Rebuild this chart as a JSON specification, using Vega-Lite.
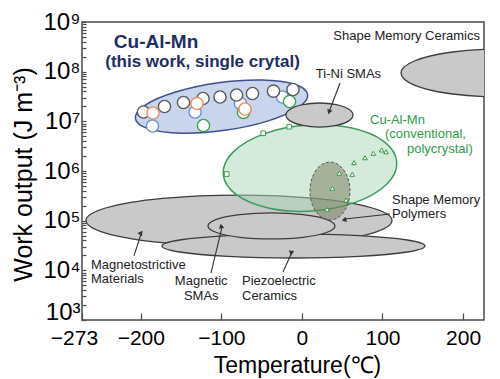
{
  "$schema": "https://vega.github.io/schema/vega-lite/v6.json",
  "width": 402,
  "height": 298,
  "autosize": {"type": "none"},
  "padding": {"left": 82, "top": 22, "right": 16, "bottom": 59},
  "background": "white",
  "config": {
    "font": "Liberation Sans",
    "view": {"stroke": "#4a4a4a", "strokeWidth": 1.5},
    "axis": {"domain": false, "grid": false, "tickColor": "#4a4a4a", "tickWidth": 1.2, "labelColor": "#000", "titleColor": "#000", "titleFontWeight": "normal", "labelFont": "Liberation Sans", "titleFont": "Liberation Sans", "labelOverlap": false, "labelFlush": false}
  },
  "datasets": {
    "grayLow": [
      {"name": "Magnetostrictive materials", "i": 0, "T": 111.8, "W": 101000},
      {"name": "Magnetostrictive materials", "i": 1, "T": 86.4, "W": 182000},
      {"name": "Magnetostrictive materials", "i": 2, "T": 16.9, "W": 281000},
      {"name": "Magnetostrictive materials", "i": 3, "T": -78.1, "W": 328000},
      {"name": "Magnetostrictive materials", "i": 4, "T": -173.1, "W": 281000},
      {"name": "Magnetostrictive materials", "i": 5, "T": -242.6, "W": 182000},
      {"name": "Magnetostrictive materials", "i": 6, "T": -268.0, "W": 101000},
      {"name": "Magnetostrictive materials", "i": 7, "T": -242.6, "W": 55700},
      {"name": "Magnetostrictive materials", "i": 8, "T": -173.1, "W": 36100},
      {"name": "Magnetostrictive materials", "i": 9, "T": -78.1, "W": 30900},
      {"name": "Magnetostrictive materials", "i": 10, "T": 16.9, "W": 36100},
      {"name": "Magnetostrictive materials", "i": 11, "T": 86.4, "W": 55700},
      {"name": "Piezoelectric ceramics", "i": 0, "T": 152.7, "W": 30900},
      {"name": "Piezoelectric ceramics", "i": 1, "T": 130.8, "W": 40800},
      {"name": "Piezoelectric ceramics", "i": 2, "T": 71.1, "W": 50000},
      {"name": "Piezoelectric ceramics", "i": 3, "T": -10.5, "W": 54000},
      {"name": "Piezoelectric ceramics", "i": 4, "T": -92.1, "W": 50000},
      {"name": "Piezoelectric ceramics", "i": 5, "T": -151.8, "W": 40800},
      {"name": "Piezoelectric ceramics", "i": 6, "T": -173.7, "W": 30900},
      {"name": "Piezoelectric ceramics", "i": 7, "T": -151.8, "W": 23400},
      {"name": "Piezoelectric ceramics", "i": 8, "T": -92.1, "W": 19100},
      {"name": "Piezoelectric ceramics", "i": 9, "T": -10.5, "W": 17700},
      {"name": "Piezoelectric ceramics", "i": 10, "T": 71.1, "W": 19100},
      {"name": "Piezoelectric ceramics", "i": 11, "T": 130.8, "W": 23400},
      {"name": "Magnetic SMAs", "i": 0, "T": 41.0, "W": 78200},
      {"name": "Magnetic SMAs", "i": 1, "T": 30.4, "W": 106000},
      {"name": "Magnetic SMAs", "i": 2, "T": 1.6, "W": 132000},
      {"name": "Magnetic SMAs", "i": 3, "T": -37.8, "W": 143000},
      {"name": "Magnetic SMAs", "i": 4, "T": -77.2, "W": 132000},
      {"name": "Magnetic SMAs", "i": 5, "T": -106.0, "W": 106000},
      {"name": "Magnetic SMAs", "i": 6, "T": -116.6, "W": 78200},
      {"name": "Magnetic SMAs", "i": 7, "T": -106.0, "W": 57800},
      {"name": "Magnetic SMAs", "i": 8, "T": -77.2, "W": 46300},
      {"name": "Magnetic SMAs", "i": 9, "T": -37.8, "W": 42800},
      {"name": "Magnetic SMAs", "i": 10, "T": 1.6, "W": 46300},
      {"name": "Magnetic SMAs", "i": 11, "T": 30.4, "W": 57800}
    ],
    "grayHigh": [
      {"name": "Ti-Ni SMAs", "i": 0, "T": 63.4, "W": 13400000},
      {"name": "Ti-Ni SMAs", "i": 1, "T": 57.8, "W": 17700000},
      {"name": "Ti-Ni SMAs", "i": 2, "T": 42.6, "W": 21700000},
      {"name": "Ti-Ni SMAs", "i": 3, "T": 21.8, "W": 23400000},
      {"name": "Ti-Ni SMAs", "i": 4, "T": 1.0, "W": 21700000},
      {"name": "Ti-Ni SMAs", "i": 5, "T": -14.2, "W": 17700000},
      {"name": "Ti-Ni SMAs", "i": 6, "T": -19.8, "W": 13400000},
      {"name": "Ti-Ni SMAs", "i": 7, "T": -14.2, "W": 10100000},
      {"name": "Ti-Ni SMAs", "i": 8, "T": 1.0, "W": 8280000},
      {"name": "Ti-Ni SMAs", "i": 9, "T": 21.8, "W": 7670000},
      {"name": "Ti-Ni SMAs", "i": 10, "T": 42.6, "W": 8280000},
      {"name": "Ti-Ni SMAs", "i": 11, "T": 57.8, "W": 10100000},
      {"name": "Shape memory ceramics", "i": 0, "T": 368.8, "W": 94000000},
      {"name": "Shape memory ceramics", "i": 1, "T": 352.3, "W": 164000000},
      {"name": "Shape memory ceramics", "i": 2, "T": 307.4, "W": 246000000},
      {"name": "Shape memory ceramics", "i": 3, "T": 245.9, "W": 286000000},
      {"name": "Shape memory ceramics", "i": 4, "T": 184.5, "W": 246000000},
      {"name": "Shape memory ceramics", "i": 5, "T": 139.5, "W": 164000000},
      {"name": "Shape memory ceramics", "i": 6, "T": 123.0, "W": 94000000},
      {"name": "Shape memory ceramics", "i": 7, "T": 139.5, "W": 53800000},
      {"name": "Shape memory ceramics", "i": 8, "T": 184.5, "W": 35900000},
      {"name": "Shape memory ceramics", "i": 9, "T": 245.9, "W": 30900000},
      {"name": "Shape memory ceramics", "i": 10, "T": 307.4, "W": 35900000},
      {"name": "Shape memory ceramics", "i": 11, "T": 352.3, "W": 53800000}
    ],
    "smp": [
      {"name": "Shape memory polymers", "i": 0, "T": 59.6, "W": 395000},
      {"name": "Shape memory polymers", "i": 1, "T": 56.3, "W": 774000},
      {"name": "Shape memory polymers", "i": 2, "T": 47.2, "W": 1270000},
      {"name": "Shape memory polymers", "i": 3, "T": 34.8, "W": 1520000},
      {"name": "Shape memory polymers", "i": 4, "T": 22.4, "W": 1270000},
      {"name": "Shape memory polymers", "i": 5, "T": 13.3, "W": 774000},
      {"name": "Shape memory polymers", "i": 6, "T": 10.0, "W": 395000},
      {"name": "Shape memory polymers", "i": 7, "T": 13.3, "W": 202000},
      {"name": "Shape memory polymers", "i": 8, "T": 22.4, "W": 123000},
      {"name": "Shape memory polymers", "i": 9, "T": 34.8, "W": 103000},
      {"name": "Shape memory polymers", "i": 10, "T": 47.2, "W": 123000},
      {"name": "Shape memory polymers", "i": 11, "T": 56.3, "W": 202000}
    ],
    "green": [
      {"name": "Cu-Al-Mn polycrystal", "i": 0, "T": 117.7, "W": 1520000},
      {"name": "Cu-Al-Mn polycrystal", "i": 1, "T": 101.4, "W": 3960000},
      {"name": "Cu-Al-Mn polycrystal", "i": 2, "T": 60.6, "W": 7400000},
      {"name": "Cu-Al-Mn polycrystal", "i": 3, "T": 6.3, "W": 8390000},
      {"name": "Cu-Al-Mn polycrystal", "i": 4, "T": -47.1, "W": 5580000},
      {"name": "Cu-Al-Mn polycrystal", "i": 5, "T": -85.2, "W": 2430000},
      {"name": "Cu-Al-Mn polycrystal", "i": 6, "T": -97.7, "W": 867000},
      {"name": "Cu-Al-Mn polycrystal", "i": 7, "T": -81.4, "W": 333000},
      {"name": "Cu-Al-Mn polycrystal", "i": 8, "T": -40.6, "W": 178000},
      {"name": "Cu-Al-Mn polycrystal", "i": 9, "T": 13.7, "W": 157000},
      {"name": "Cu-Al-Mn polycrystal", "i": 10, "T": 67.1, "W": 236000},
      {"name": "Cu-Al-Mn polycrystal", "i": 11, "T": 105.2, "W": 542000}
    ],
    "blue": [
      {"name": "Cu-Al-Mn single crystal", "i": 0, "T": 7.1, "W": 34800000},
      {"name": "Cu-Al-Mn single crystal", "i": 1, "T": -9.3, "W": 56000000},
      {"name": "Cu-Al-Mn single crystal", "i": 2, "T": -49.9, "W": 68200000},
      {"name": "Cu-Al-Mn single crystal", "i": 3, "T": -103.9, "W": 59800000},
      {"name": "Cu-Al-Mn single crystal", "i": 4, "T": -156.9, "W": 38900000},
      {"name": "Cu-Al-Mn single crystal", "i": 5, "T": -194.5, "W": 21200000},
      {"name": "Cu-Al-Mn single crystal", "i": 6, "T": -206.7, "W": 11300000},
      {"name": "Cu-Al-Mn single crystal", "i": 7, "T": -190.3, "W": 7050000},
      {"name": "Cu-Al-Mn single crystal", "i": 8, "T": -149.7, "W": 5780000},
      {"name": "Cu-Al-Mn single crystal", "i": 9, "T": -95.7, "W": 6590000},
      {"name": "Cu-Al-Mn single crystal", "i": 10, "T": -42.7, "W": 10100000},
      {"name": "Cu-Al-Mn single crystal", "i": 11, "T": -5.1, "W": 18600000}
    ],
    "crystal": [
      {"series": "s3", "T": -185.5, "W": 8050000},
      {"series": "s3", "T": -132.7, "W": 15400000},
      {"series": "s3", "T": -76.3, "W": 22900000},
      {"series": "s3", "T": -24.1, "W": 30900000},
      {"series": "s4", "T": -122.2, "W": 8240000},
      {"series": "s4", "T": -72.5, "W": 15100000},
      {"series": "s4", "T": -15.4, "W": 25100000},
      {"series": "s1", "T": -196.7, "W": 15400000},
      {"series": "s1", "T": -170.6, "W": 19900000},
      {"series": "s1", "T": -147.0, "W": 23900000},
      {"series": "s1", "T": -122.8, "W": 28800000},
      {"series": "s1", "T": -101.7, "W": 30900000},
      {"series": "s1", "T": -81.2, "W": 33900000},
      {"series": "s1", "T": -61.4, "W": 36300000},
      {"series": "s1", "T": -35.3, "W": 40700000},
      {"series": "s1", "T": -11.1, "W": 43800000},
      {"series": "s2", "T": -184.9, "W": 14700000},
      {"series": "s2", "T": -130.3, "W": 22900000},
      {"series": "s2", "T": -70.7, "W": 17700000}
    ],
    "poly": [
      {"group": "A", "T": -93.4, "W": 869000},
      {"group": "A", "T": -48.0, "W": 5740000},
      {"group": "A", "T": -15.7, "W": 7800000},
      {"group": "B", "T": 64.6, "W": 1470000},
      {"group": "B", "T": 78.3, "W": 1850000},
      {"group": "B", "T": 88.6, "W": 2270000},
      {"group": "B", "T": 99.0, "W": 2650000},
      {"group": "B", "T": 104.4, "W": 2440000},
      {"group": "B", "T": 62.5, "W": 857000},
      {"group": "B", "T": 46.4, "W": 900000},
      {"group": "B", "T": 37.7, "W": 449000},
      {"group": "B", "T": 54.7, "W": 261000},
      {"group": "B", "T": 31.1, "W": 169000}
    ],
    "arrows": [
      {"name": "Ti-Ni", "T1": 47.3, "W1": 59200000, "T2": 33.6, "W2": 15400000},
      {"name": "Magnetostrictive", "T1": -208.5, "W1": 19500, "T2": -199.8, "W2": 53800},
      {"name": "Magnetic SMAs", "T1": -112.9, "W1": 8830, "T2": -99.2, "W2": 74500},
      {"name": "Piezoelectric", "T1": -23.5, "W1": 9250, "T2": -12.3, "W2": 23400},
      {"name": "SMP", "T1": 109.3, "W1": 136000, "T2": 53.5, "W2": 108000}
    ]
  },
  "layer": [
    {
      "data": {"name": "grayLow"},
      "mark": {"type": "line", "interpolate": "cardinal-closed", "fill": "#c9c9c9", "stroke": "#3c3c3c", "strokeWidth": 1.3, "clip": true},
      "encoding": {
        "x": {"field": "T", "type": "quantitative", "scale": {"domain": [-273, 226], "nice": false, "zero": false},
          "axis": {"values": [-273, -200, -100, 0, 100, 200], "format": "d", "labelFontSize": 21, "tickSize": -7, "labelPadding": 14,
            "labelOffset": {"condition": {"test": "datum.value == -273", "value": -8}, "value": 0},
            "title": "Temperature(℃)", "titleFontSize": 23, "titleX": 215, "titleY": 45, "titleBaseline": "middle"}},
        "y": {"field": "W", "type": "quantitative", "scale": {"type": "log", "domain": [1000, 1000000000], "nice": false},
          "axis": {"values": [1000, 2000, 3000, 4000, 5000, 6000, 7000, 8000, 9000, 10000, 20000, 30000, 40000, 50000, 60000, 70000, 80000, 90000, 100000, 200000, 300000, 400000, 500000, 600000, 700000, 800000, 900000, 1000000, 2000000, 3000000, 4000000, 5000000, 6000000, 7000000, 8000000, 9000000, 10000000, 20000000, 30000000, 40000000, 50000000, 60000000, 70000000, 80000000, 90000000, 100000000, 200000000, 300000000, 400000000, 500000000, 600000000, 700000000, 800000000, 900000000, 1000000000],
            "labelExpr": "abs(log(datum.value)/LN10 - round(log(datum.value)/LN10)) < 0.001 ? '10' + ['⁰','¹','²','³','⁴','⁵','⁶','⁷','⁸','⁹'][round(log(datum.value)/LN10)] : ''",
            "labelFontSize": 24, "labelPadding": 6, "tickSize": -4,
            "labelOffset": {"condition": {"test": "datum.value == 1000", "value": -8}, "value": 0},
            "title": "Work output (J m⁻³)", "titleFontSize": 25, "titleX": -59, "titleY": 152, "titleBaseline": "middle", "titleAngle": -90}},
        "detail": {"field": "name"},
        "order": {"field": "i", "type": "quantitative"}
      }
    },
    {
      "data": {"name": "green"},
      "mark": {"type": "line", "interpolate": "cardinal-closed", "fill": "#a9d5b7", "fillOpacity": 0.5, "stroke": "#3d9c5c", "strokeWidth": 1.5},
      "encoding": {
        "x": {"field": "T", "type": "quantitative"},
        "y": {"field": "W", "type": "quantitative"},
        "detail": {"field": "name"},
        "order": {"field": "i", "type": "quantitative"}
      }
    },
    {
      "data": {"name": "smp"},
      "mark": {"type": "line", "interpolate": "cardinal-closed", "fill": "#767a58", "fillOpacity": 0.5, "stroke": "#555555", "strokeWidth": 1, "strokeDash": [3, 2]},
      "encoding": {
        "x": {"field": "T", "type": "quantitative"},
        "y": {"field": "W", "type": "quantitative"},
        "detail": {"field": "name"},
        "order": {"field": "i", "type": "quantitative"}
      }
    },
    {
      "data": {"name": "blue"},
      "mark": {"type": "line", "interpolate": "cardinal-closed", "fill": "#c8d5ed", "stroke": "#3f4f8c", "strokeWidth": 1.5},
      "encoding": {
        "x": {"field": "T", "type": "quantitative"},
        "y": {"field": "W", "type": "quantitative"},
        "detail": {"field": "name"},
        "order": {"field": "i", "type": "quantitative"}
      }
    },
    {
      "data": {"name": "grayHigh"},
      "mark": {"type": "line", "interpolate": "cardinal-closed", "fill": "#c9c9c9", "stroke": "#3c3c3c", "strokeWidth": 1.3, "clip": true},
      "encoding": {
        "x": {"field": "T", "type": "quantitative"},
        "y": {"field": "W", "type": "quantitative"},
        "detail": {"field": "name"},
        "order": {"field": "i", "type": "quantitative"}
      }
    },
    {
      "data": {"name": "crystal"},
      "mark": {"type": "point", "shape": "circle", "filled": false, "fill": "white", "size": 150, "strokeWidth": 1.4, "opacity": 1},
      "encoding": {
        "x": {"field": "T", "type": "quantitative"},
        "y": {"field": "W", "type": "quantitative"},
        "color": {"field": "series", "type": "nominal", "scale": {"domain": ["s1", "s2", "s3", "s4"], "range": ["#5a5a5a", "#ee8a5c", "#6a8fd4", "#3aa14c"]}, "legend": null}
      }
    },
    {
      "data": {"name": "poly"},
      "mark": {"type": "point", "filled": false, "fill": "white", "size": 22, "strokeWidth": 1, "stroke": "#3a9a50", "opacity": 1},
      "encoding": {
        "x": {"field": "T", "type": "quantitative"},
        "y": {"field": "W", "type": "quantitative"},
        "shape": {"field": "group", "type": "nominal", "scale": {"domain": ["A", "B"], "range": ["square", "triangle-up"]}, "legend": null}
      }
    },
    {
      "data": {"name": "arrows"},
      "mark": {"type": "rule", "color": "#333333", "strokeWidth": 1.1},
      "encoding": {
        "x": {"field": "T1", "type": "quantitative"},
        "y": {"field": "W1", "type": "quantitative"},
        "x2": {"field": "T2"},
        "y2": {"field": "W2"}
      }
    },
    {
      "data": {"name": "arrows"},
      "mark": {"type": "point", "shape": "triangle-up", "filled": true, "color": "#333333", "size": 30, "opacity": 1},
      "encoding": {
        "x": {"field": "T2", "type": "quantitative"},
        "y": {"field": "W2", "type": "quantitative"},
        "angle": {"field": "name", "type": "nominal", "scale": {"domain": ["Ti-Ni", "Magnetostrictive", "Magnetic SMAs", "Piezoelectric", "SMP"], "range": [201, 18, 13, 24, 264]}, "legend": null}
      }
    },
    {
      "data": {"values": [{"label": "Cu-Al-Mn", "T": -181.1, "W": 395000000}]},
      "mark": {"type": "text", "fontWeight": "bold", "fontSize": 19, "color": "#1e2d66", "align": "center", "baseline": "middle"},
      "encoding": {
        "x": {"field": "T", "type": "quantitative"},
        "y": {"field": "W", "type": "quantitative"},
        "text": {"field": "label"}
      }
    },
    {
      "data": {"values": [{"label": "(this work, single crytal)", "T": -123.4, "W": 156000000}]},
      "mark": {"type": "text", "fontWeight": "bold", "fontSize": 17, "color": "#1e2d66", "align": "center", "baseline": "middle"},
      "encoding": {
        "x": {"field": "T", "type": "quantitative"},
        "y": {"field": "W", "type": "quantitative"},
        "text": {"field": "label"}
      }
    },
    {
      "data": {"values": [
        {"label": "Magnetostrictive", "T": -261.8, "W": 12800},
        {"label": "Materials", "T": -261.8, "W": 6680},
        {"label": "Piezoelectric", "T": -74.4, "W": 6100},
        {"label": "Ceramics", "T": -74.4, "W": 3040},
        {"label": "Shape Memory", "T": 111.8, "W": 261000},
        {"label": "Polymers", "T": 111.8, "W": 136000}
      ]},
      "mark": {"type": "text", "fontSize": 13, "color": "#222222", "align": "left", "baseline": "middle"},
      "encoding": {
        "x": {"field": "T", "type": "quantitative"},
        "y": {"field": "W", "type": "quantitative"},
        "text": {"field": "label"}
      }
    },
    {
      "data": {"values": [
        {"label": "Magnetic", "T": -125, "W": 6100},
        {"label": "SMAs", "T": -125, "W": 3040},
        {"label": "Ti-Ni SMAs", "T": 57.8, "W": 89800000}
      ]},
      "mark": {"type": "text", "fontSize": 13, "color": "#222222", "align": "center", "baseline": "middle"},
      "encoding": {
        "x": {"field": "T", "type": "quantitative"},
        "y": {"field": "W", "type": "quantitative"},
        "text": {"field": "label"}
      }
    },
    {
      "data": {"values": [{"label": "Shape Memory Ceramics", "T": 221, "W": 522000000}]},
      "mark": {"type": "text", "fontSize": 13, "color": "#222222", "align": "right", "baseline": "middle"},
      "encoding": {
        "x": {"field": "T", "type": "quantitative"},
        "y": {"field": "W", "type": "quantitative"},
        "text": {"field": "label"}
      }
    },
    {
      "data": {"values": [
        {"label": "Cu-Al-Mn", "T": 84.5, "W": 10600000},
        {"label": "(conventional,", "T": 103.1, "W": 5560000},
        {"label": "polycrystal)", "T": 130.4, "W": 2770000}
      ]},
      "mark": {"type": "text", "fontSize": 13, "color": "#2f9a4c", "align": "left", "baseline": "middle"},
      "encoding": {
        "x": {"field": "T", "type": "quantitative"},
        "y": {"field": "W", "type": "quantitative"},
        "text": {"field": "label"}
      }
    }
  ]
}
